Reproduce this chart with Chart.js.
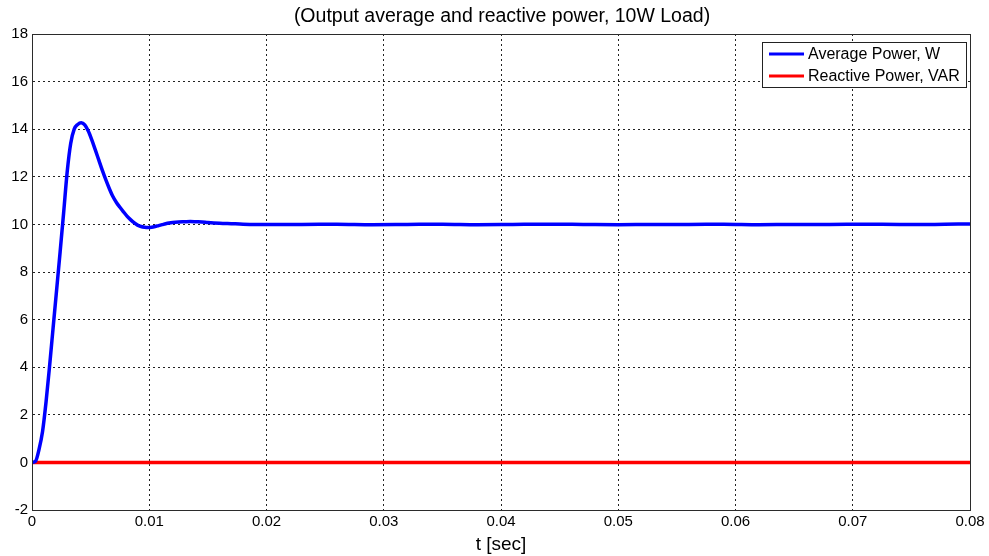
<!DOCTYPE html>
<html>
<head>
<meta charset="utf-8">
<script src="https://cdn.jsdelivr.net/npm/chart.js@4.4.1/dist/chart.umd.min.js"></script>
<style>
  html, body { margin: 0; padding: 0; background: #fff; }
  #wrap { width: 989px; height: 556px; }
</style>
</head>
<body>
<div id="wrap"><canvas id="chart" width="989" height="556"></canvas></div>
<script>
let chartTitle = '(Output average and reactive power, 10W Load)';
let xTitle = 't [sec]';
let seriesNames = ['Average Power, W', 'Reactive Power, VAR'];

// time axis of the average power trace (s)
let timeAvg = [0, 0.0003, 0.0006, 0.0009, 0.0012, 0.0015, 0.0018, 0.0021, 0.0024, 0.0027, 0.003, 0.0033,
  0.0036, 0.0039, 0.0042, 0.0045, 0.0048, 0.0051, 0.0054, 0.0057, 0.006, 0.0063, 0.0066, 0.0069, 0.0072,
  0.0075, 0.0078, 0.0081, 0.0084, 0.0087, 0.009, 0.0093, 0.0096, 0.0099, 0.0102, 0.0105, 0.0108, 0.0111,
  0.0114, 0.0117, 0.012, 0.0125, 0.013, 0.0135, 0.014, 0.0145, 0.015, 0.016, 0.017, 0.018, 0.019, 0.02,
  0.023, 0.026, 0.029, 0.032, 0.035, 0.038, 0.041, 0.044, 0.047, 0.05, 0.053, 0.056, 0.059, 0.062, 0.065,
  0.068, 0.071, 0.074, 0.077, 0.08];
let powerAvg = [0, 0.05, 0.55, 1.3, 2.55, 4.05, 5.65, 7.25, 8.85, 10.5, 12.2, 13.4,
  14.0, 14.2, 14.27, 14.18, 13.92, 13.55, 13.13, 12.7, 12.27, 11.87, 11.5, 11.17, 10.92,
  10.72, 10.53, 10.35, 10.2, 10.07, 9.97, 9.91, 9.88, 9.87, 9.88, 9.91, 9.95, 9.99,
  10.03, 10.06, 10.08, 10.1, 10.11, 10.12, 10.11, 10.1, 10.08, 10.05, 10.03, 10.01, 10.0, 10.0,
  10.0, 10.01, 9.99, 10.0, 10.01, 9.99, 10.0, 10.01, 10.0, 9.99, 10.0, 10.0, 10.01, 9.99, 10.0,
  10.0, 10.01, 10.0, 10.0, 10.02];

let timeReactive = [0, 0.08];
let powerReactive = [0, 0];

let xTickLabels = ['0', '0.01', '0.02', '0.03', '0.04', '0.05', '0.06', '0.07', '0.08'];
let yTicks = [-2, 0, 2, 4, 6, 8, 10, 12, 14, 16, 18];

const fontFamily = '"Liberation Sans", Arial, sans-serif';

function toPoints(xs, ys) {
  return xs.map((x, i) => ({ x: x, y: ys[i] }));
}

// frame, title and boxed legend drawn the way the original figure has them
const figurePlugin = {
  id: 'figure',
  afterDraw(chart) {
    const ctx = chart.ctx;
    const a = chart.chartArea;
    ctx.save();
    ctx.strokeStyle = '#2b2b2b';
    ctx.lineWidth = 1;
    ctx.setLineDash([]);
    ctx.strokeRect(a.left + 0.5, a.top + 0.5, a.right - a.left, a.bottom - a.top);

    ctx.fillStyle = '#000';
    ctx.font = '19.5px ' + fontFamily;
    ctx.textAlign = 'center';
    ctx.textBaseline = 'middle';
    ctx.fillText(chartTitle, (a.left + a.right) / 2 + 1, 17);

    // legend box
    const bx = 762, by = 42, bw = 204, bh = 45;
    ctx.fillStyle = '#fff';
    ctx.fillRect(bx, by, bw, bh);
    ctx.strokeStyle = '#222';
    ctx.strokeRect(bx + 0.5, by + 0.5, bw, bh);
    ctx.font = '16px ' + fontFamily;
    ctx.textAlign = 'left';
    chart.data.datasets.forEach((ds, i) => {
      const yy = by + 12 + i * 22;
      ctx.strokeStyle = ds.borderColor;
      ctx.lineWidth = 3;
      ctx.beginPath();
      ctx.moveTo(769, yy);
      ctx.lineTo(804, yy);
      ctx.stroke();
      ctx.fillStyle = '#000';
      ctx.fillText(ds.label, 808, yy + 1);
    });
    ctx.restore();
  }
};

let ctx = document.getElementById('chart').getContext('2d');
let chart = new Chart(ctx, {
  type: 'line',
  data: {
    datasets: [{
      label: seriesNames[0],
      data: toPoints(timeAvg, powerAvg),
      borderColor: '#0000ff',
      borderWidth: 3.5,
      pointRadius: 0,
      cubicInterpolationMode: 'monotone',
      fill: false
    }, {
      label: seriesNames[1],
      data: toPoints(timeReactive, powerReactive),
      borderColor: '#ff0000',
      borderWidth: 3.5,
      pointRadius: 0,
      fill: false
    }]
  },
  options: {
    responsive: false,
    animation: false,
    layout: { padding: { top: 34, right: 19, left: 0, bottom: 0 } },
    plugins: {
      legend: { display: false },
      title: { display: false },
      tooltip: { enabled: false }
    },
    scales: {
      x: {
        type: 'linear',
        min: 0,
        max: 0.08,
        afterBuildTicks: (scale) => {
          scale.ticks = xTickLabels.map(v => ({ value: parseFloat(v) }));
        },
        afterFit: (scale) => { scale.height = 46; },
        ticks: {
          padding: 3,
          color: '#000',
          font: { family: fontFamily, size: 15 },
          callback: (v, i) => xTickLabels[i]
        },
        grid: { color: '#222', lineWidth: 1, tickLength: 0 },
        border: { display: true, color: '#2b2b2b', dash: [2, 3] },
        title: {
          display: true,
          text: xTitle,
          color: '#000',
          padding: { top: 0, bottom: 0 },
          font: { family: fontFamily, size: 19 }
        }
      },
      y: {
        min: -2,
        max: 18,
        afterBuildTicks: (scale) => {
          scale.ticks = yTicks.map(v => ({ value: v }));
        },
        afterFit: (scale) => { scale.width = 32; },
        ticks: {
          padding: 4,
          color: '#000',
          font: { family: fontFamily, size: 15 },
          callback: (v) => String(v)
        },
        grid: { color: '#222', lineWidth: 1, tickLength: 0 },
        border: { display: true, color: '#2b2b2b', dash: [2, 3] }
      }
    }
  },
  plugins: [figurePlugin]
});
</script>
</body>
</html>
